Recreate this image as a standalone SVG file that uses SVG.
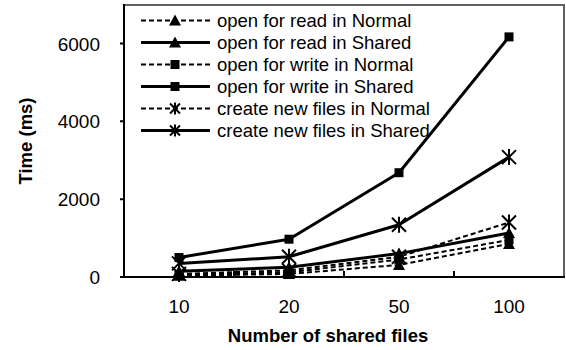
<svg xmlns="http://www.w3.org/2000/svg" width="566" height="350" viewBox="0 0 566 350">
<style>
text{font-family:"Liberation Sans",Arial,sans-serif;fill:#000}
.tick{font-size:19px}
.leg{font-size:18.5px}
.title{font-size:18.5px;font-weight:bold}
.solid{fill:none;stroke:#000;stroke-width:3;stroke-linejoin:round}
.dash{fill:none;stroke:#000;stroke-width:2;stroke-dasharray:5,3}
.ax{stroke:#000;stroke-width:2;fill:none}
.frame{stroke:#606060;stroke-width:2;fill:none}
</style>
<defs>
<path id="tri" d="M0,-6 L6,5 L-6,5 Z" fill="#000"/>
<rect id="sq" x="-4.5" y="-4.5" width="9" height="9" fill="#000"/>
<path id="star" d="M-7,-7 L7,7 M-7,7 L7,-7 M0,-8 L0,8" stroke="#000" stroke-width="2" fill="none"/>
<path id="stars" d="M-5,-5 L5,5 M-5,5 L5,-5 M0,-6 L0,6" stroke="#000" stroke-width="2" fill="none"/>
</defs>
<rect x="0" y="0" width="566" height="350" fill="#fff"/>
<g id="axes">
<path class="frame" d="M124,5 H564 V277"/>
<path class="ax" d="M124,4 V277 H565"/>
<path class="ax" d="M120,277 H124 M120,199.2 H124 M120,121.3 H124 M120,43.5 H124"/>
<path class="ax" d="M234,277 V271 M344,277 V271 M454,277 V271"/>
<text class="tick" x="100" y="284" text-anchor="end">0</text>
<text class="tick" x="100" y="206" text-anchor="end">2000</text>
<text class="tick" x="100" y="128" text-anchor="end">4000</text>
<text class="tick" x="100" y="50.5" text-anchor="end">6000</text>
<text class="tick" x="179" y="313" text-anchor="middle">10</text>
<text class="tick" x="289" y="313" text-anchor="middle">20</text>
<text class="tick" x="399" y="313" text-anchor="middle">50</text>
<text class="tick" x="509" y="313" text-anchor="middle">100</text>
<text class="title" x="328" y="342" text-anchor="middle">Number of shared files</text>
<text class="title" transform="translate(32,141) rotate(-90)" text-anchor="middle">Time (ms)</text>
</g>
<g id="connectors">
<polyline class="dash" points="179,275.8 289,273.9 399,264.9 509,243.9"/>
<polyline class="solid" points="179,271.2 289,267.3 399,253.6 509,233"/>
<polyline class="dash" points="179,275.1 289,272.3 399,259.5 509,240"/>
<polyline class="solid" points="179,257.5 289,239.2 399,172.7 509,36.9"/>
<polyline class="dash" points="179,273.9 289,270.4 399,256.8 509,222.5"/>
<polyline class="solid" points="179,263.4 289,256.8 399,224.8 509,157.1"/>
</g>
<g id="series-read-normal">
<use href="#tri" x="179" y="275.8"/><use href="#tri" x="289" y="273.9"/><use href="#tri" x="399" y="264.9"/><use href="#tri" x="509" y="243.9"/>
</g>
<g id="series-read-shared">
<use href="#tri" x="179" y="271.2"/><use href="#tri" x="289" y="267.3"/><use href="#tri" x="399" y="253.6"/><use href="#tri" x="509" y="233"/>
</g>
<g id="series-write-normal">
<use href="#sq" x="179" y="275.1"/><use href="#sq" x="289" y="272.3"/><use href="#sq" x="399" y="259.5"/><use href="#sq" x="509" y="240"/>
</g>
<g id="series-write-shared">
<use href="#sq" x="179" y="257.5"/><use href="#sq" x="289" y="239.2"/><use href="#sq" x="399" y="172.7"/><use href="#sq" x="509" y="36.9"/>
</g>
<g id="series-create-normal">
<use href="#star" x="179" y="273.9"/><use href="#star" x="289" y="270.4"/><use href="#star" x="399" y="256.8"/><use href="#star" x="509" y="222.5"/>
</g>
<g id="series-create-shared">
<use href="#star" x="179" y="263.4"/><use href="#star" x="289" y="256.8"/><use href="#star" x="399" y="224.8"/><use href="#star" x="509" y="157.1"/>
</g>
<g id="legend">
<line class="dash" x1="141" y1="20.5" x2="210" y2="20.5"/><use href="#tri" x="175" y="20.5"/>
<text class="leg" x="217" y="27">open for read in Normal</text>
<line class="solid" x1="141" y1="42.5" x2="210" y2="42.5"/><use href="#tri" x="175" y="42.5"/>
<text class="leg" x="217" y="49">open for read in Shared</text>
<line class="dash" x1="141" y1="64.5" x2="210" y2="64.5"/><use href="#sq" x="175" y="64.5"/>
<text class="leg" x="217" y="71">open for write in Normal</text>
<line class="solid" x1="141" y1="86.5" x2="210" y2="86.5"/><use href="#sq" x="175" y="86.5"/>
<text class="leg" x="217" y="93">open for write in Shared</text>
<line class="dash" x1="141" y1="108.5" x2="210" y2="108.5"/><use href="#stars" x="175" y="108.5"/>
<text class="leg" x="217" y="115">create new files in Normal</text>
<line class="solid" x1="141" y1="130.5" x2="210" y2="130.5"/><use href="#stars" x="175" y="130.5"/>
<text class="leg" x="217" y="137">create new files in Shared</text>
</g>
</svg>
